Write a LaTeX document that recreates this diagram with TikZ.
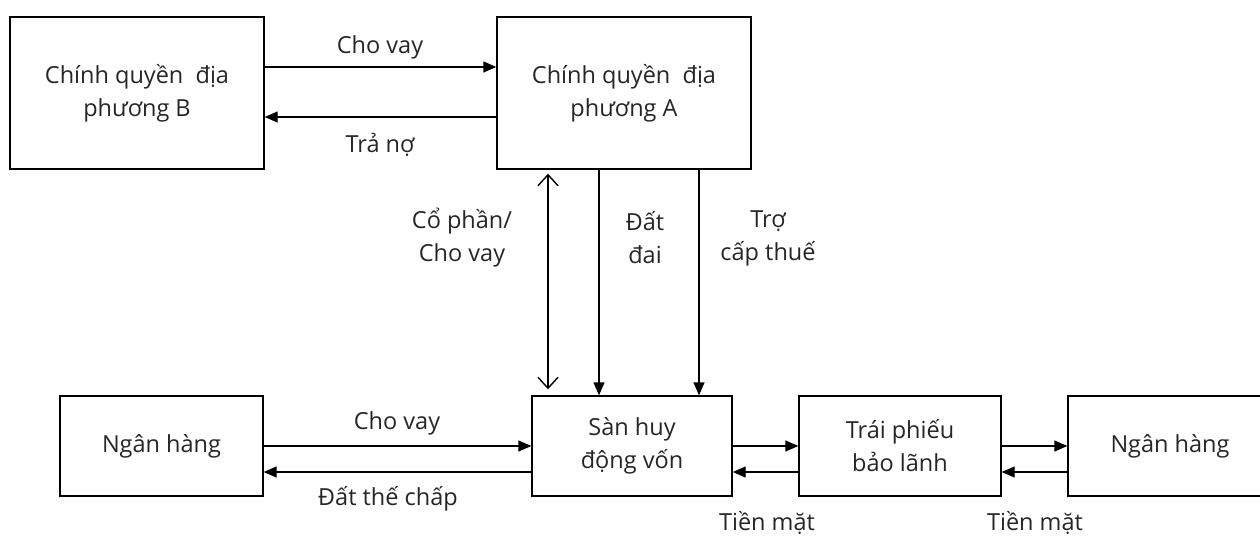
\documentclass[tikz,border=0pt]{standalone}
\usepackage{fontspec}
\setmainfont{Open Sans}
\usetikzlibrary{arrows.meta}
\begin{document}
\begin{tikzpicture}[x=1pt,y=-1pt,
  box/.style={draw=black,line width=1.4pt,inner sep=0pt,anchor=center},
  lbl/.style={text=black!85,font=\fontsize{23.5}{33}\selectfont,align=center,inner sep=0pt},
  conn/.style={line width=1.4pt,-{Triangle[length=13pt,width=11pt]}},
  dconn/.style={line width=1.4pt,{Straight Barb[length=11pt,width=20pt]}-{Straight Barb[length=11pt,width=20pt]},shorten <=4pt,shorten >=6pt}]
\useasboundingbox (0,0) rectangle (1260,536);
\node[box,minimum width=254pt,minimum height=152pt] (B) at (137,93) {};
\node[box,minimum width=254pt,minimum height=152pt] (A) at (624,93) {};
\node[box,minimum width=203pt,minimum height=100pt] (N1) at (161.5,446) {};
\node[box,minimum width=200pt,minimum height=100pt] (S) at (632,446) {};
\node[box,minimum width=202pt,minimum height=100pt] (T) at (900,446) {};
\node[box,minimum width=204pt,minimum height=100pt] (N2) at (1170,446) {};
\node[lbl] (Bt) at (B) {Chính quyền\ \ địa\\phương B};
\node[lbl] (At) at (A) {Chính quyền\ \ địa\\phương A};
\node[lbl] (N1t) at (N1) {Ngân hàng};
\node[lbl] (St) at (S) {Sàn huy\\động vốn};
\node[lbl] (Tt) at (T) {Trái phiếu\\bảo lãnh};
\node[lbl] (N2t) at (N2) {Ngân hàng};
% top arrows
\draw[conn] ([yshift=26pt]B.east) -- ([yshift=26pt]A.west);
\draw[conn] ([yshift=-24pt]A.west) -- ([yshift=-24pt]B.east);
\node[lbl] (l1) at (380,47) {Cho vay};
\node[lbl] (l2) at (380,145) {Trả nợ};
% vertical arrows
\coordinate (a1) at ([xshift=-76pt]A.south);
\coordinate (a2) at ([xshift=-25pt]A.south);
\coordinate (a3) at ([xshift=75pt]A.south);
\draw[dconn] (a1) -- (a1 |- S.north);
\draw[conn] (a2) -- (a2 |- S.north);
\draw[conn] (a3) -- (a3 |- S.north);
\node[lbl] (l3) at (462,238) {Cổ phần/\\Cho vay};
\node[lbl] (l4) at (645,238) {Đất\\đai};
\node[lbl] (l5) at (768,238) {Trợ\\cấp thuế};
% bottom arrows
\draw[conn] (N1.east) -- (S.west);
\draw[conn] ([yshift=-26pt]S.west) -- ([yshift=-26pt]N1.east);
\draw[conn] (S.east) -- (T.west);
\draw[conn] ([yshift=-26pt]T.west) -- ([yshift=-26pt]S.east);
\draw[conn] (T.east) -- (N2.west);
\draw[conn] ([yshift=-26pt]N2.west) -- ([yshift=-26pt]T.east);
\node[lbl] (l6) at (397,423) {Cho vay};
\node[lbl] (l7) at (388,499) {Đất thế chấp};
\node[lbl] (l8) at (767,523) {Tiền mặt};
\node[lbl] (l9) at (1035,523) {Tiền mặt};
\end{tikzpicture}
\end{document}
